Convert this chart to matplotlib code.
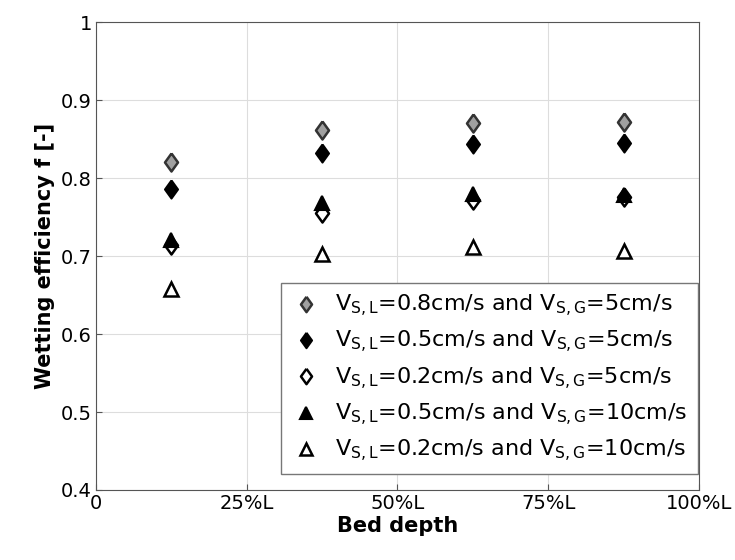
import numpy as np
import matplotlib
matplotlib.use("Agg")
import matplotlib.pyplot as plt

plt.rcParams['font.family'] = ['DejaVu Sans']
plt.rcParams['mathtext.default'] = 'regular'

# bed depth positions (fraction of L, in %)
depth = [12.5, 37.5, 62.5, 87.5]

# wetting efficiency for each flow condition
f_08_5 = [0.820, 0.861, 0.870, 0.872]
f_05_5 = [0.786, 0.832, 0.844, 0.845]
f_02_5 = [0.714, 0.755, 0.772, 0.776]
f_05_10 = [0.720, 0.768, 0.780, 0.778]
f_02_10 = [0.658, 0.702, 0.712, 0.706]

labels = [
    r'V$_{S,L}$=0.8cm/s and V$_{S,G}$=5cm/s',
    r'V$_{S,L}$=0.5cm/s and V$_{S,G}$=5cm/s',
    r'V$_{S,L}$=0.2cm/s and V$_{S,G}$=5cm/s',
    r'V$_{S,L}$=0.5cm/s and V$_{S,G}$=10cm/s',
    r'V$_{S,L}$=0.2cm/s and V$_{S,G}$=10cm/s',
]
xtick_labels = ['0', '25%L', '50%L', '75%L', '100%L']

# matlab-like diamond (a bit narrower than tall)
dia = [(0, 1), (0.72, 0), (0, -1), (-0.72, 0), (0, 1)]

fig = plt.figure(figsize=(7.35, 5.6), dpi=100)
ax = fig.add_axes([0.1306, 0.125, 0.8204, 0.8357])

ax.plot(depth, f_08_5, marker=dia, ls='none', ms=13, mfc='#a0a0a0', mec='#333333', mew=1.8, label=labels[0])
ax.plot(depth, f_05_5, marker=dia, ls='none', ms=13, mfc='black', mec='black', mew=1.5, label=labels[1])
ax.plot(depth, f_02_5, marker=dia, ls='none', ms=13, mfc='white', mec='black', mew=1.8, label=labels[2])
ax.plot(depth, f_05_10, '^', ms=10, mfc='black', mec='black', mew=1.5, label=labels[3])
ax.plot(depth, f_02_10, '^', ms=10, mfc='white', mec='black', mew=1.8, label=labels[4])

ax.set_xlim(0, 100)
ax.set_ylim(0.4, 1.0)
ax.set_xticks([0, 25, 50, 75, 100])
ax.set_xticklabels(xtick_labels)
ax.set_yticks([0.4, 0.5, 0.6, 0.7, 0.8, 0.9, 1.0])
ax.set_yticklabels(['0.4', '0.5', '0.6', '0.7', '0.8', '0.9', '1'])
ax.tick_params(labelsize=14, direction='in', length=4, color='#555555', pad=3)
ax.grid(True, color='#dddddd', linewidth=0.8)
for s in ax.spines.values():
    s.set_color('#555555')

ax.set_xlabel('Bed depth', fontsize=15, fontweight='bold', labelpad=2)
ax.set_ylabel('Wetting efficiency f [-]', fontsize=15, fontweight='bold')

leg = ax.legend(loc='lower right', bbox_to_anchor=(0.998, 0.034), fontsize=16,
                fancybox=False, framealpha=1, edgecolor='#777777',
                handletextpad=0.6, labelspacing=0.45, borderaxespad=0,
                handlelength=1.4, markerscale=0.85, borderpad=0.45)

fig.savefig('out.png', dpi=100)
